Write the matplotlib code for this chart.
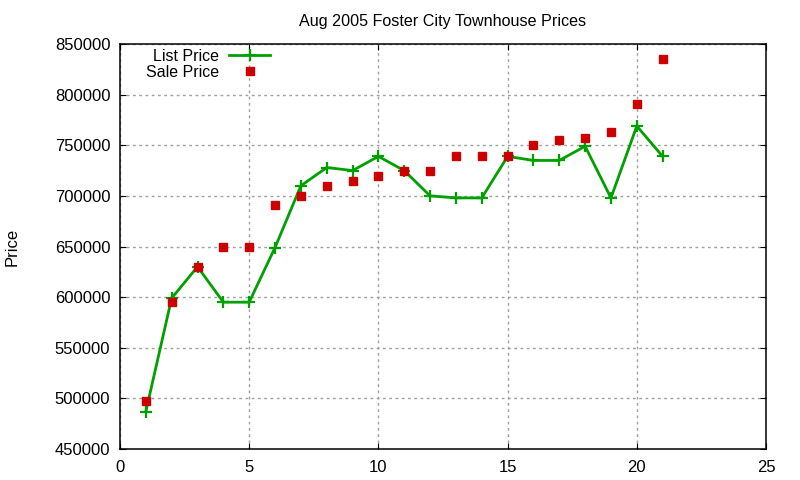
import matplotlib
matplotlib.use('Agg')
import matplotlib.pyplot as plt

plt.rcParams['font.family'] = ['Liberation Sans', 'DejaVu Sans']

# Aug 2005 Foster City townhouse sales, by listing number
listing = list(range(1, 22))
list_price = [487000, 599000, 630000, 595000, 595000, 649000, 710000, 728000,
              725000, 739000, 725000, 700000, 698000, 698000, 739000, 735000,
              735000, 749000, 698000, 769000, 739000]
sale_price = [497000, 595000, 630000, 650000, 650000, 691000, 700000, 710000,
              715000, 720000, 725000, 725000, 739000, 739000, 739000, 750000,
              755000, 757000, 763000, 791000, 835000]
x_ticks = [0, 5, 10, 15, 20, 25]
y_ticks = list(range(450000, 850001, 50000))

fig = plt.figure(figsize=(8, 4.8), dpi=100)
ax = fig.add_axes([0.15, 0.0646, 0.8075, 0.8437])

ax.plot(listing, list_price, color='#00a000', lw=2, marker='+', ms=9, mew=1.6,
        label='List Price', zorder=3)
ax.plot(listing, sale_price, ls='none', color='#cc0000', marker='s', ms=6,
        label='Sale Price', zorder=4)

ax.set_xlim(0, 25)
ax.set_ylim(450000, 850000)
ax.set_xticks(x_ticks)
ax.set_yticks(y_ticks)
ax.tick_params(direction='in', top=True, right=True, labelsize=12, length=4)
ax.tick_params(axis='y', pad=7)
ax.tick_params(axis='x', pad=8)
ax.grid(True, color='#a0a0a0', ls=(0, (2, 2.5)), lw=1)
for s in ax.spines.values():
    s.set_linewidth(1.1)

ax.set_title('Aug 2005 Foster City Townhouse Prices', fontsize=11.6, pad=13)
fig.text(0.006, 0.485, 'Price', rotation=90, va='center', ha='left', fontsize=12)

ax.legend(loc='upper left', frameon=False, markerfirst=False, fontsize=11.5,
          handlelength=2.6, borderaxespad=0.1, bbox_to_anchor=(0.028, 1.008),
          labelspacing=0.05, handletextpad=0.6)

fig.savefig('out.png', dpi=100)
